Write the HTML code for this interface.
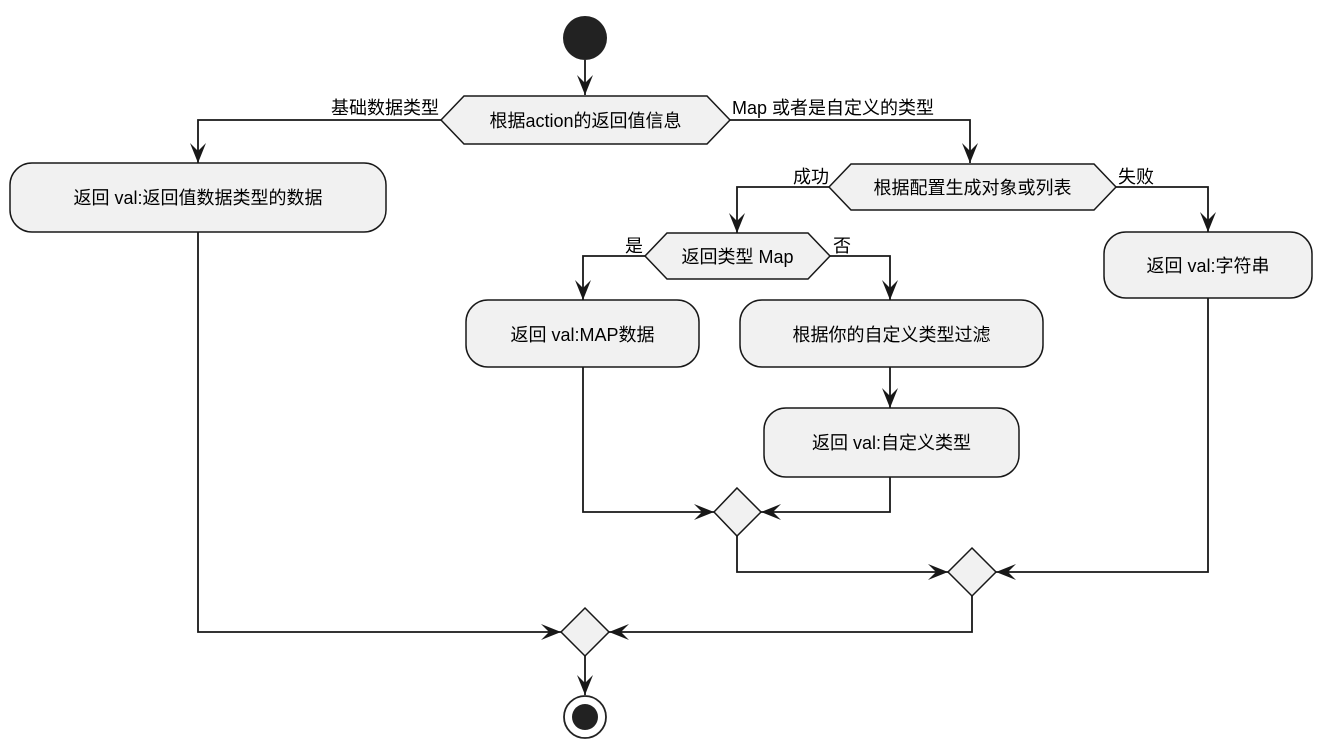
<!DOCTYPE html>
<html><head><meta charset="utf-8"><style>
html,body{margin:0;padding:0;background:#fff;}
svg{display:block}
text{font-family:"Liberation Sans","Noto Sans CJK SC",sans-serif;font-size:18px;fill:#000}
</style></head><body>
<svg width="1328" height="744" viewBox="0 0 1328 744" xmlns="http://www.w3.org/2000/svg">
<defs>
<g id="ad"><polygon points="-8,-20 0,0 8,-20 0,-12" fill="#181818"/></g>
</defs>
<g fill="none" stroke="#181818" stroke-width="1.8">
<!-- start -->
<line x1="585" y1="60" x2="585" y2="95"/>
<!-- decision 1 branches -->
<polyline points="441,120 198,120 198,163"/>
<polyline points="730,120 970,120 970,163"/>
<!-- decision 2 -->
<polyline points="829,187 737,187 737,233"/>
<polyline points="1116,187 1208,187 1208,232"/>
<!-- decision 3 -->
<polyline points="645,256 583,256 583,300"/>
<polyline points="830,256 890,256 890,300"/>
<line x1="890" y1="367" x2="890" y2="408"/>
<!-- merges -->
<polyline points="583,367 583,512 714,512"/>
<polyline points="890,477 890,512 761,512"/>
<polyline points="737,536 737,572 948,572"/>
<polyline points="1208,298 1208,572 996,572"/>
<polyline points="972,596 972,632 609,632"/>
<polyline points="198,232 198,632 561,632"/>
<line x1="585" y1="656" x2="585" y2="695"/>
</g>
<!-- arrowheads -->
<use href="#ad" transform="translate(585,95)"/>
<use href="#ad" transform="translate(198,163)"/>
<use href="#ad" transform="translate(970,163)"/>
<use href="#ad" transform="translate(737,233)"/>
<use href="#ad" transform="translate(1208,232)"/>
<use href="#ad" transform="translate(583,300)"/>
<use href="#ad" transform="translate(890,300)"/>
<use href="#ad" transform="translate(890,408)"/>
<use href="#ad" transform="translate(714,512) rotate(-90)"/>
<use href="#ad" transform="translate(761,512) rotate(90)"/>
<use href="#ad" transform="translate(948,572) rotate(-90)"/>
<use href="#ad" transform="translate(996,572) rotate(90)"/>
<use href="#ad" transform="translate(561,632) rotate(-90)"/>
<use href="#ad" transform="translate(609,632) rotate(90)"/>
<use href="#ad" transform="translate(585,695)"/>
<!-- start/end -->
<circle cx="585" cy="38" r="22" fill="#222"/>
<circle cx="585" cy="717" r="21" fill="none" stroke="#222" stroke-width="1.8"/>
<circle cx="585" cy="717" r="13" fill="#222"/>
<g fill="#F1F1F1" stroke="#181818" stroke-width="1.5">
<polygon points="441,120 464,96 707,96 730,120 707,144 464,144"/>
<polygon points="829,187 851,164 1094,164 1116,187 1094,210 851,210"/>
<polygon points="645,256 667,233 808,233 830,256 808,279 667,279"/>
<rect x="10" y="163" width="376" height="69" rx="22"/>
<rect x="1104" y="232" width="208" height="66" rx="22"/>
<rect x="466" y="300" width="233" height="67" rx="22"/>
<rect x="740" y="300" width="303" height="67" rx="22"/>
<rect x="764" y="408" width="255" height="69" rx="22"/>
<polygon points="737,488 761,512 737,536 714,512"/>
<polygon points="972,548 996,572 972,596 948,572"/>
<polygon points="585,608 609,632 585,656 561,632"/>
</g>
<!-- texts -->
<text x="585.5" y="127" text-anchor="middle">根据action的返回值信息</text>
<text x="972.5" y="194" text-anchor="middle">根据配置生成对象或列表</text>
<text x="737.5" y="263" text-anchor="middle">返回类型 Map</text>
<text x="198" y="204" text-anchor="middle">返回 val:返回值数据类型的数据</text>
<text x="1208" y="272" text-anchor="middle">返回 val:字符串</text>
<text x="582.5" y="341" text-anchor="middle">返回 val:MAP数据</text>
<text x="891.5" y="341" text-anchor="middle">根据你的自定义类型过滤</text>
<text x="891.5" y="449" text-anchor="middle">返回 val:自定义类型</text>
<text x="439" y="114" text-anchor="end">基础数据类型</text>
<text x="732" y="114">Map 或者是自定义的类型</text>
<text x="829" y="183" text-anchor="end">成功</text>
<text x="1118" y="183">失败</text>
<text x="643" y="252" text-anchor="end">是</text>
<text x="833" y="252">否</text>
</svg>
</body></html>
